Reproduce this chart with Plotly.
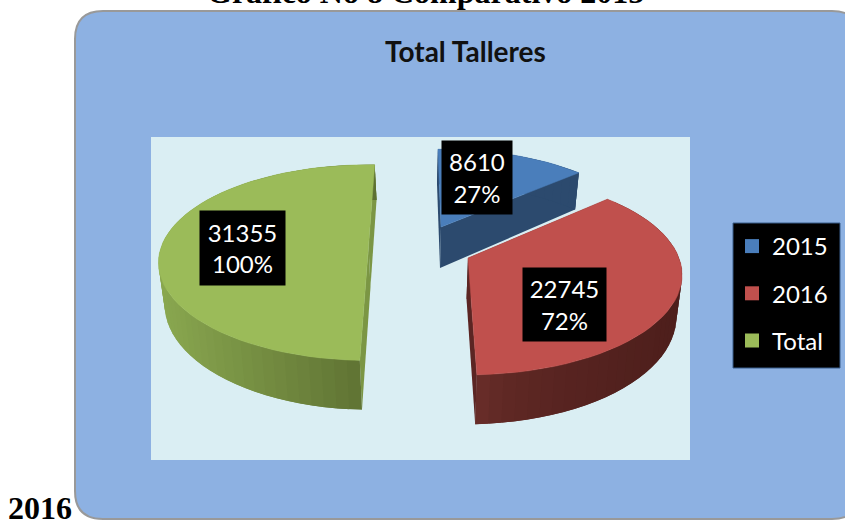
import math
import plotly.graph_objects as go

categories = ["2015", "2016", "Total"]
values = [8610, 22745, 31355]
percent_labels = ["27%", "72%", "100%"]
chart_title = "Total Talleres"
page_title = "Gráfico No 8 Comparativo 2015"
page_suffix = "2016"

top_colors = ["#4a7ebb", "#c0504d", "#9bbb59"]
cut_colors = ["#2c4a6e", "#5b2523", "#7b9644"]
rim_left = ["#2c4a6e", "#6e302c", "#8aa850"]
rim_right = ["#2c4a6e", "#4e1f1c", "#5d7032"]
rim_gamma = [1.0, 0.45, 1.0]

# per-slice projection: apex x, apex y, semi-axes, rotation offset, edge shift
PERSP = 0.17
slices = [
    dict(cx=441, cy=227, a=205, b=91, rot=-1.0, ex=-1),
    dict(cx=468, cy=258, a=211, b=97, rot=-2.0, ex=-1.5),
    dict(cx=368.5, cy=246, a=207, b=95, rot=2.0, ex=2),
]
THICK = 41
NARROW = 0.98

total = sum(values)
fig = go.Figure()


def project(s, theta):
    t = math.radians(theta)
    X, Y = math.sin(t), math.cos(t)
    k = 1 / (1 + PERSP * Y)
    return s["cx"] + s["a"] * X * k, s["cy"] - s["b"] * Y * k, k


def lower(s, x, y, k):
    return s["cx"] + (x - s["cx"]) * NARROW + s["ex"], y + THICK * k


def mix(c1, c2, f):
    f = max(0, min(1, f))
    v = [int(c1[i:i + 2], 16) * (1 - f) + int(c2[i:i + 2], 16) * f for i in (1, 3, 5)]
    return "rgb(%d,%d,%d)" % tuple(v)


def poly(xs, ys, color, edge=0.0, name=None):
    fig.add_trace(go.Scatter(
        x=xs + xs[:1], y=ys + ys[:1], mode="lines", fill="toself",
        fillcolor=color, line=dict(color=color, width=edge),
        hoverinfo="skip", showlegend=False, name=name or ""))


start = 0.0
for i, v in enumerate(values):
    s = slices[i]
    sweep = 360.0 * v / total
    a0, a1 = start + s["rot"], start + sweep + s["rot"]
    start += sweep
    n = max(16, int(sweep / 3))
    thetas = [a0 + (a1 - a0) * j / n for j in range(n + 1)]
    pts = [project(s, t) for t in thetas]
    low = [lower(s, *p) for p in pts]
    apex_low = (s["cx"] + s["ex"], s["cy"] + THICK)
    # cut faces
    poly([s["cx"], pts[0][0], low[0][0], apex_low[0]],
         [s["cy"], pts[0][1], low[0][1], apex_low[1]], cut_colors[i])
    poly([s["cx"], pts[-1][0], low[-1][0], apex_low[0]],
         [s["cy"], pts[-1][1], low[-1][1], apex_low[1]], cut_colors[i])
    # rim with a stepped left-to-right shade; strips overlap so no seams show
    xmin = min(p[0] for p in pts)
    xmax = max(p[0] for p in pts)
    for j in range(n):
        e = min(j + 2, n)
        mid = (pts[j][0] + pts[j + 1][0]) / 2
        f = max(0.0, (mid - xmin) / max(1, xmax - xmin)) ** rim_gamma[i]
        col = mix(rim_left[i], rim_right[i], f)
        poly([pts[j][0]] + [pts[q][0] for q in range(j + 1, e + 1)] + [low[q][0] for q in range(e, j - 1, -1)],
             [pts[j][1]] + [pts[q][1] for q in range(j + 1, e + 1)] + [low[q][1] for q in range(e, j - 1, -1)],
             col)
    # top face
    poly([s["cx"]] + [p[0] for p in pts], [s["cy"]] + [p[1] for p in pts],
         top_colors[i], 0.5, categories[i])

# legend entries
for c, col in zip(categories, top_colors):
    fig.add_trace(go.Scatter(
        x=[None], y=[None], mode="markers", name=c, legendgroup=c,
        marker=dict(symbol="square", size=14, color=col)))

label_boxes = [(476.5, 177.5, 70, 73), (564.5, 304.5, 83, 73), (242.5, 248, 85, 74)]
annotations = []
for v, p, (x, y, w, h) in zip(values, percent_labels, label_boxes):
    annotations.append(dict(
        x=x, y=y, xref="x", yref="y", text=f"{v}<br>{p}", showarrow=False,
        width=w, height=h, bgcolor="#000000", borderpad=0, align="center",
        font=dict(family="Lato", size=24, color="white")))
annotations += [
    dict(x=465, y=51, xref="x", yref="y", text=f"<b>{chart_title}</b>", showarrow=False,
         font=dict(family="Lato", size=28, color="#111111")),
    dict(x=425, y=12, xref="x", yref="y", text=f"<b>{page_title}</b>", showarrow=False,
         yanchor="bottom", font=dict(family="Liberation Serif", size=32, color="black")),
    dict(x=6, y=521, xref="x", yref="y", text=f"<b>{page_suffix}</b>", showarrow=False,
         xanchor="left", yanchor="bottom", yshift=-7,
         font=dict(family="Liberation Serif", size=32, color="black")),
]

L, T, R, B, r = 75, 11, 860, 519, 28
shapes = [
    dict(type="path", layer="below",
         path=f"M{L + r},{T} L{R - r},{T} Q{R},{T} {R},{T + r} L{R},{B - r} Q{R},{B} {R - r},{B} "
              f"L{L + r},{B} Q{L},{B} {L},{B - r} L{L},{T + r} Q{L},{T} {L + r},{T} Z",
         xref="x", yref="y", fillcolor="#8db1e2", line=dict(color="#999999", width=2)),
    dict(type="rect", layer="below", xref="x", yref="y", x0=151, x1=690, y0=137, y1=460,
         fillcolor="#daeef3", line=dict(width=0)),
    dict(type="rect", layer="below", xref="x", yref="y", x0=733, x1=840, y0=223, y1=368,
         fillcolor="#000000", line=dict(color="#385d8a", width=1)),
]

fig.update_layout(
    width=845, height=521, margin=dict(l=0, r=0, t=0, b=0),
    paper_bgcolor="white", plot_bgcolor="white",
    xaxis=dict(range=[0, 845], visible=False, fixedrange=True),
    yaxis=dict(range=[521, 0], visible=False, fixedrange=True),
    shapes=shapes, annotations=annotations,
    legend=dict(x=732 / 845, y=1 - 224 / 521, xanchor="left", yanchor="top",
                bgcolor="rgba(0,0,0,0)", tracegroupgap=13, itemwidth=30,
                font=dict(family="Lato", size=24, color="white")),
    showlegend=True,
)
fig.write_html("out.html", config=dict(displayModeBar=False),
               post_script="document.body.style.margin='0';")
